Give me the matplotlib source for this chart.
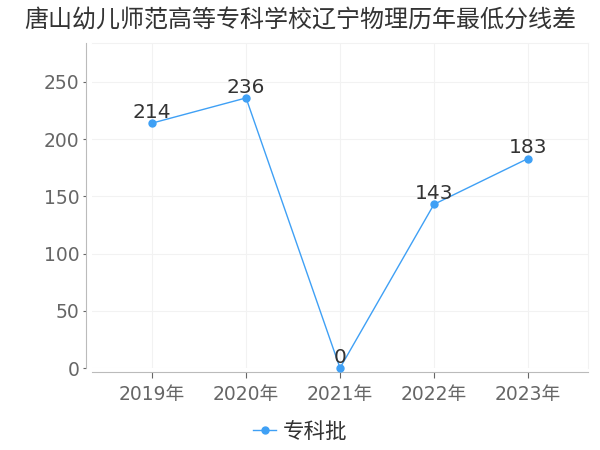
import matplotlib
matplotlib.use('Agg')
import matplotlib.pyplot as plt

plt.rcParams['font.family'] = ['DejaVu Sans', 'Noto Sans CJK SC']

title = '唐山幼儿师范高等专科学校辽宁物理历年最低分线差'
years = ['2019年', '2020年', '2021年', '2022年', '2023年']
series_name = '专科批'
values = [214, 236, 0, 143, 183]
line_color = '#3fa0f5'

fig = plt.figure(figsize=(6, 4.5), dpi=100)
ax = fig.add_axes([92 / 600, 82 / 450, 496 / 600, 325 / 450])

x = list(range(len(years)))
ax.plot(x, values, color=line_color, lw=1, marker='o', ms=5, label=series_name, clip_on=False, zorder=3)
for xi, v in zip(x, values):
    ax.annotate(str(v), (xi, v), xytext=(0, 1), textcoords='offset points',
                ha='center', va='bottom', fontsize=14.5, color='#333333', zorder=4)

ax.set_xlim(-0.64, 4.64)
ax.set_ylim(0, 284)
ax.set_xticks(x)
ax.set_xticklabels(years)
ax.set_yticks([0, 50, 100, 150, 200, 250])
ax.tick_params(axis='both', labelsize=13.5, colors='#666666', width=0.8)
ax.tick_params(axis='y', length=2, pad=3)
ax.tick_params(axis='x', length=4, pad=5)
ax.grid(True, color='#f2f2f2', lw=0.8)
ax.set_axisbelow(True)

for s in ['top', 'right']:
    ax.spines[s].set_color('#f2f2f2')
ax.spines['left'].set_color('#bbbbbb')
ax.spines['bottom'].set_color('#bbbbbb')
ax.spines['left'].set_position(('outward', 4))
ax.spines['bottom'].set_position(('outward', 3))

fig.text(0.5, 1 - 20 / 450, title, ha='center', va='center', fontsize=17.3, color='#333333')
fig.legend(loc='center', bbox_to_anchor=(0.5, 1 - 432 / 450), frameon=False,
           fontsize=15.5, handlelength=1.1, handletextpad=0.3, labelcolor='#333333')

fig.savefig('out.png', dpi=100)
